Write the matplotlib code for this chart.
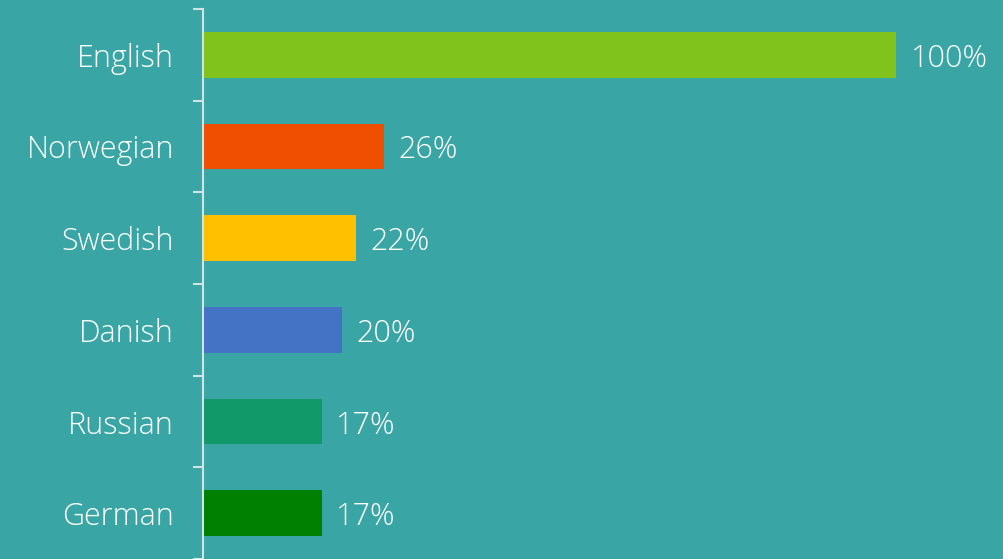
import matplotlib.pyplot as plt
import numpy as np

languages = ["English", "Norwegian", "Swedish", "Danish", "Russian", "German"]
shares = [100, 26, 22, 20, 17, 17]
colors = ["#7fc31c", "#f04e00", "#ffc000", "#4472c4", "#12996a", "#008000"]

plt.rcParams['font.family'] = ['Open Sans', 'DejaVu Sans']
plt.rcParams['font.weight'] = 'light'
bg = "#3aa5a5"
axis_col = "#d4e2e2"

fig = plt.figure(figsize=(10.04, 5.59), dpi=100, facecolor=bg)
ax = fig.add_axes([203 / 1004, 0, 801 / 1004, 550 / 559])
ax.set_facecolor(bg)

y = np.arange(len(languages))
ax.barh(y, shares, height=0.5, color=colors, left=0.15)
for yi, v in zip(y, shares):
    ax.text(v + 2.2, yi, f"{v}%", va='center_baseline', ha='left', color='white',
            fontsize=22, fontweight='light')

ax.set_xlim(0, 115.7)
ax.set_ylim(len(languages) - 0.5, -0.5)
ax.set_yticks(y)
ax.set_yticklabels(languages, fontweight='light')
ax.set_yticks(np.arange(-0.5, len(languages)), minor=True)
ax.tick_params(axis='y', which='major', length=0, pad=21, labelsize=22, labelcolor='white')
ax.tick_params(axis='y', which='minor', length=7, width=1.5, color=axis_col)
ax.set_xticks([])
for s in ['top', 'right', 'bottom']:
    ax.spines[s].set_visible(False)
ax.spines['left'].set_color(axis_col)
ax.spines['left'].set_linewidth(1.5)

fig.savefig("out.png", facecolor=bg)
